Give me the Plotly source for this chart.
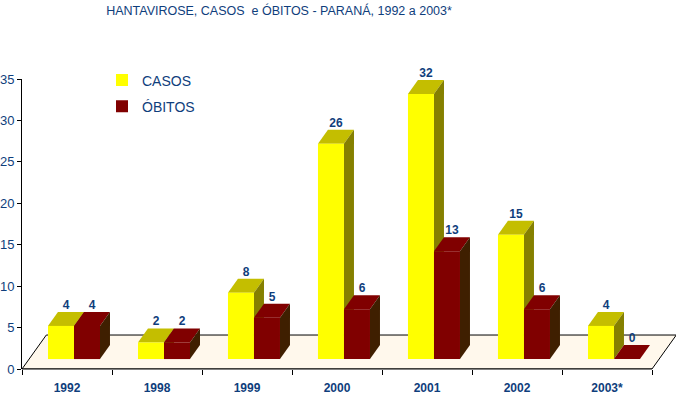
import plotly.graph_objects as go

# ---- data ----
years = ["1992", "1998", "1999", "2000", "2001", "2002", "2003*"]
casos = [4, 2, 8, 26, 32, 15, 4]
obitos = [4, 2, 5, 6, 13, 6, 0]

# ---- style / geometry (data units) ----
NAVY = "#0F3E7C"
FONT = "Liberation Sans, Arial, sans-serif"
BASE = 1.2          # front-face bottom above the floor front edge
DX, DY = 0.111, 1.69  # 3D depth offset of the bar tops / sides
FDX, FDY = 0.27, 4.1  # depth of the floor
W = 0.289
OFF_C, OFF_O = -0.067, 0.222

x_idx = list(range(len(years)))
xc = [i + OFF_C for i in x_idx]
xo = [i + OFF_O for i in x_idx]

fig = go.Figure()

shapes = []
n = len(years)
# floor
shapes.append(dict(
    type="path", xref="x", yref="y", layer="below",
    path=f"M {-0.5},0 L {n-0.5},0 L {n-0.5+FDX},{FDY} L {-0.5+FDX},{FDY} Z",
    fillcolor="#FFF8EC", line=dict(color="black", width=1)))

def faces(x_center, v, top_col, side_col):
    x0 = x_center - W / 2
    x1 = x_center + W / 2
    t = BASE + v
    out = [
        dict(type="path", xref="x", yref="y", layer="below",
             path=f"M {x0},{t} L {x1},{t} L {x1+DX},{t+DY} L {x0+DX},{t+DY} Z",
             fillcolor=top_col, line=dict(width=0)),
        dict(type="path", xref="x", yref="y", layer="below",
             path=f"M {x1},{BASE} L {x1},{t} L {x1+DX},{t+DY} L {x1+DX},{BASE+DY} Z",
             fillcolor=side_col, line=dict(width=0)),
    ]
    return out

for i in x_idx:
    shapes += faces(xc[i], casos[i], "#C4BE00", "#858000")
    shapes += faces(xo[i], obitos[i], "#800000", "#3F1F00")

# x axis front edge
shapes.append(dict(type="line", xref="x", yref="paper", x0=-0.5, x1=n - 0.5,
                   y0=0, y1=0, layer="above", line=dict(color="black", width=1)))

fig.add_trace(go.Bar(x=xc, y=casos, base=BASE, width=W, name="CASOS",
                     marker=dict(color="#FFFF00", line=dict(width=0)),
                     legendgroup="a", hoverinfo="skip"))
fig.add_trace(go.Bar(x=xo, y=obitos, base=BASE, width=W, name="ÓBITOS",
                     marker=dict(color="#800000", line=dict(width=0)),
                     legendgroup="b", hoverinfo="skip"))

# value labels
fig.add_trace(go.Scatter(
    x=[v + DX / 2 for v in xc] + [v + DX / 2 for v in xo],
    y=[BASE + v + DY for v in casos] + [BASE + v + DY for v in obitos],
    text=[str(v) for v in casos] + [str(v) for v in obitos],
    mode="text", textposition="top center", showlegend=False, hoverinfo="skip",
    cliponaxis=False,
    textfont=dict(family=FONT, size=12, color=NAVY, weight="bold")))

fig.update_layout(
    width=676, height=394,
    margin=dict(l=22, r=0, t=79, b=25),
    paper_bgcolor="white", plot_bgcolor="white",
    barmode="overlay",
    shapes=shapes,
    font=dict(family=FONT, color=NAVY),
    title=dict(text="HANTAVIROSE, CASOS  e ÓBITOS - PARANÁ, 1992 a 2003*",
               x=279 / 676, xanchor="center", xref="container",
               y=1 - 11 / 394, yanchor="middle", yref="container",
               font=dict(family=FONT, size=12.5, color=NAVY)),
    legend=dict(x=(116 - 22 - 14) / 654, y=1.05, xanchor="left", yanchor="top",
                bgcolor="rgba(0,0,0,0)", traceorder="grouped", tracegroupgap=5,
                font=dict(family=FONT, size=14, color=NAVY)),
    xaxis=dict(range=[-0.5, n - 0.5 + 654 / 90 - n], tickmode="array",
               tickvals=x_idx, ticktext=years, ticks="", showline=False,
               showgrid=False, zeroline=False, ticklabelstandoff=10,
               tickfont=dict(family=FONT, size=12, color=NAVY, weight="bold"),
               minor=dict(tickmode="array", tickvals=[i - 0.5 for i in range(n + 1)],
                          ticks="outside", ticklen=5, tickcolor="black", showgrid=False)),
    yaxis=dict(range=[0, 35], dtick=5, showline=True, linecolor="black", linewidth=1,
               ticks="outside", ticklen=4, tickcolor="black", showgrid=False,
               zeroline=False, tickfont=dict(family=FONT, size=13, color=NAVY)),
)

fig.write_html("out.html", config={"displayModeBar": False},
               post_script="document.body.style.margin='0';")
